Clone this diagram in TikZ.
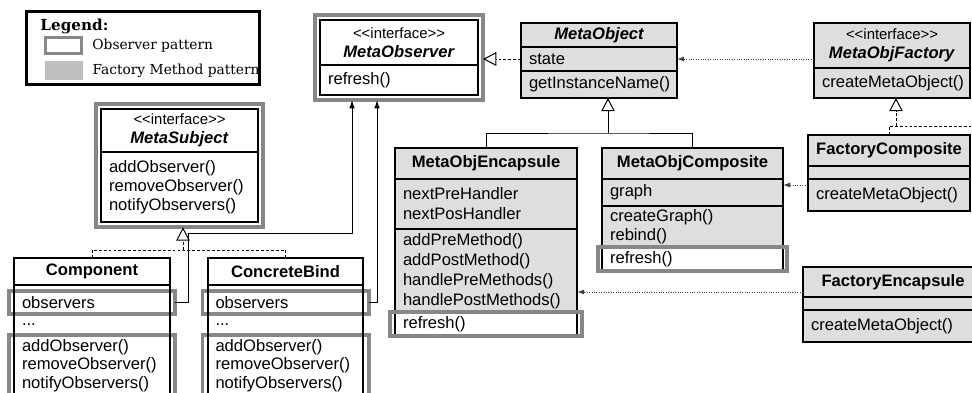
\documentclass[tikz,border=0pt]{standalone}
\usepackage{fontspec}
\setmainfont{Liberation Sans}
\newfontfamily\legfont{DejaVu Serif}
\usepackage{xcolor}
\usepackage{tikz}
\usetikzlibrary{arrows.meta, positioning, fit}

\definecolor{facgray}{gray}{0.87}
\definecolor{swgray}{gray}{0.75}
\definecolor{obsgray}{gray}{0.53}

\newcommand{\umlfont}{\fontsize{11.8}{13.4}\selectfont}
\newcommand{\umlwide}{\fontsize{11.8}{14.2}\selectfont}
\newcommand{\legsize}{\legfont\fontsize{9.8}{12}\selectfont}
\newcommand{\legtitlesize}{\legfont\fontsize{10.8}{13}\selectfont}
\newcommand{\stereo}[1]{{\fontsize{10.6}{12}\selectfont <{}<interface>{}>}\\\textbf{\textit{#1}}}

\begin{document}
\begin{tikzpicture}[x=0.025cm, y=-0.025cm, line width=0.7pt]
    \tikzset{
        cls/.style={rectangle, draw, line width=0.9pt, inner xsep=0.2cm, inner ysep=0pt, outer sep=0pt, font=\umlfont, align=left},
        clsfac/.style={cls, fill=facgray},
        obsbox/.style={draw=obsgray, line width=2.8pt, inner sep=0pt, outer sep=0pt},
        rowbox/.style={rectangle, inner xsep=0.325cm, inner ysep=0pt, outer sep=0pt, text width=3.5cm, font=\umlfont, align=left},
        line/.style={draw, -{Latex[length=6pt,width=4pt]}},
        dep/.style={draw=black!75, densely dotted, -{Latex[length=5pt,width=3.5pt]}},
        real/.style={draw, dash pattern=on 2pt off 1.5pt, -{Triangle[open, length=0.33cm, width=0.34cm]}},
        realdash/.style={draw, dash pattern=on 2pt off 1.5pt},
        gen/.style={draw, -{Triangle[open, length=0.33cm, width=0.34cm]}}
    }

    \useasboundingbox (0,0) rectangle (972,393);
    \clip (0,0) rectangle (972,393);

    % legend
    \node (legbox) [draw, line width=2pt, anchor=north west, minimum width=5.835cm, minimum height=1.835cm, inner sep=0pt, outer sep=0pt] at (26.3,11.3) {};
    \node (legtitle) [anchor=west, inner sep=0pt, font=\legtitlesize\bfseries] at (40,26) {Legend:};
    \node (swobs) [obsbox, minimum width=0.9cm, minimum height=0.4cm] at (63.5,45.5) {};
    \node (swfac) [fill=swgray, minimum width=0.95cm, minimum height=0.475cm, inner sep=0pt, outer sep=0pt] at (64,70.5) {};
    \node (legobs) [right=0.26cm of swobs, inner sep=0pt, font=\legsize] {Observer pattern};
    \node (legfac) [right=0.225cm of swfac, inner sep=0pt, font=\legsize] {Factory Method pattern};

    % observer side
    \node (obsvhead) [cls, align=center, anchor=north west, text width=3.55cm, minimum height=1.125cm] at (320,20) {\stereo{MetaObserver}};
    \node (obsvmeth) [cls, below=0pt of obsvhead, text width=3.55cm, minimum height=0.75cm] {refresh()};
    \node (obsvhl) [obsbox, fit=(obsvhead)(obsvmeth), inner sep=0.125cm] {};

    \node (subjhead) [cls, align=center, anchor=north west, text width=3.525cm, minimum height=1.075cm] at (101,109) {\stereo{MetaSubject}};
    \node (subjmeth) [cls, below=0pt of subjhead, text width=3.525cm, minimum height=1.75cm] {addObserver()\\removeObserver()\\notifyObservers()};
    \node (subjhl) [obsbox, fit=(subjhead)(subjmeth), inner sep=0.135cm] {};

    \node (comp) [cls, align=center, font=\umlfont\bfseries, anchor=north west, text width=3.5cm, minimum height=0.675cm] at (14,258) {Component};
    \node (compobs) [obsbox, rowbox, below=0.16cm of comp, minimum height=0.56cm] {observers};
    \node (compdots) [rowbox, below=0pt of compobs, minimum height=0.54cm] {...};
    \node (compmeth) [obsbox, rowbox, below=0pt of compdots, inner ysep=0.09cm, text depth=1.6cm] {addObserver()\\removeObserver()\\notifyObservers()};
    \draw[line width=0.9pt] (comp.south west) -- (comp.south west |- compmeth.south)
        (comp.south east) -- (comp.south east |- compmeth.south);

    \node (cbind) [cls, align=center, font=\umlfont\bfseries, anchor=north west, text width=3.475cm, minimum height=0.675cm] at (208,258) {ConcreteBind};
    \node (cbobs) [obsbox, rowbox, below=0.16cm of cbind, minimum height=0.56cm] {observers};
    \node (cbdots) [rowbox, below=0pt of cbobs, minimum height=0.54cm] {...};
    \node (cbmeth) [obsbox, rowbox, below=0pt of cbdots, inner ysep=0.09cm, text depth=1.6cm] {addObserver()\\removeObserver()\\notifyObservers()};
    \draw[line width=0.9pt] (cbind.south west) -- (cbind.south west |- cbmeth.south)
        (cbind.south east) -- (cbind.south east |- cbmeth.south);

    % factory side
    \node (mobjhead) [clsfac, align=center, font=\umlfont\bfseries\itshape, anchor=north west, text width=3.5cm, minimum height=0.6cm] at (521,23) {MetaObject};
    \node (mobjattr) [clsfac, below=0pt of mobjhead, text width=3.5cm, minimum height=0.6cm] {state};
    \node (mobjmeth) [clsfac, below=0pt of mobjattr, text width=3.5cm, minimum height=0.675cm] {getInstanceName()};

    \node (mfachead) [clsfac, align=center, anchor=north west, text width=3.5cm, minimum height=1.125cm] at (814,23) {\stereo{MetaObjFactory}};
    \node (mfacmeth) [clsfac, below=0pt of mfachead, text width=3.5cm, minimum height=0.75cm] {createMetaObject()};

    \node (menchead) [clsfac, align=center, font=\umlfont\bfseries, anchor=north west, text width=4.15cm, minimum height=0.775cm] at (395,148) {MetaObjEncapsule};
    \node (mencattr) [clsfac, font=\umlwide, below=0pt of menchead, text width=4.15cm, minimum height=1.25cm] {nextPreHandler\\nextPosHandler};
    \node (mencmeth) [clsfac, font=\umlwide, below=0pt of mencattr, text width=4.15cm, minimum height=2.1cm] {addPreMethod()\\addPostMethod()\\handlePreMethods()\\handlePostMethods()};
    \node (mencref) [cls, fill=white, below=0pt of mencmeth, text width=4.15cm, minimum height=0.55cm] {refresh()};
    \node (mencrefhl) [obsbox, fit=(mencref), inner xsep=0.12cm, inner ysep=0.03cm] {};

    \node (mcomphead) [clsfac, align=center, font=\umlfont\bfseries, anchor=north west, text width=4.125cm, minimum height=0.775cm] at (602,148) {MetaObjComposite};
    \node (mcompattr) [clsfac, below=0pt of mcomphead, text width=4.125cm, minimum height=0.675cm] {graph};
    \node (mcompmeth) [clsfac, below=0pt of mcompattr, text width=4.125cm, minimum height=1.05cm] {createGraph()\\rebind()};
    \node (mcompref) [cls, fill=white, below=0pt of mcompmeth, text width=4.125cm, minimum height=0.55cm] {refresh()};
    \node (mcomprefhl) [obsbox, fit=(mcompref), inner xsep=0.1cm, inner ysep=0.03cm] {};

    \node (fcomphead) [clsfac, align=center, font=\umlfont\bfseries, anchor=north west, text width=3.65cm, minimum height=0.775cm] at (808,135) {FactoryComposite};
    \node (fcompattr) [clsfac, below=0pt of fcomphead, text width=3.65cm, minimum height=0.325cm] {};
    \node (fcompmeth) [clsfac, below=0pt of fcompattr, text width=3.65cm, minimum height=0.8cm] {createMetaObject()};

    \node (fenchead) [clsfac, align=center, font=\umlfont\bfseries, anchor=north west, text width=4.1cm, minimum height=0.75cm] at (803,267) {FactoryEncapsule};
    \node (fencattr) [clsfac, below=0pt of fenchead, text width=4.1cm, minimum height=0.325cm] {};
    \node (fencmeth) [clsfac, below=0pt of fencattr, text width=4.1cm, minimum height=0.8cm] {createMetaObject()};

    % connectors
    \coordinate (obsbend) at (188,233);
    \coordinate (subjj) at (183,250);
    \coordinate (genj) at (608,133);
    \coordinate (facj) at (896,126);
    \coordinate (facout) at (990,126);

    \path [line] (compobs.east) -| (obsbend) -| ([xshift=-1.175cm]obsvhl.south);
    \path [line] (cbobs.east) -| ([xshift=-0.55cm]obsvhl.south);
    \path [realdash] (comp.north) |- (subjj) -| (cbind.north);
    \path [real] (subjj) -- (subjj |- subjhl.south);
    \path [real] (mobjattr.west) -- (mobjattr.west -| obsvhl.east);
    \path [dep] (mobjattr.east -| mfachead.west) -- (mobjattr.east);
    \path [draw] (menchead.north) |- (genj) -| (mcomphead.north);
    \path [gen] (genj) -- (genj |- mobjmeth.south);
    \path [realdash] (fcomphead.north) |- (facout);
    \path [real] (facj) -- (facj |- mfacmeth.south);
    \path [dep] ([yshift=0.25cm]fcompmeth.west) -- ([yshift=0.25cm]fcompmeth.west -| mcompattr.east);
    \path [dep] ([yshift=-0.25cm]fenchead.west) -- ([yshift=-0.25cm]fenchead.west -| mencmeth.east);

\end{tikzpicture}
\end{document}
